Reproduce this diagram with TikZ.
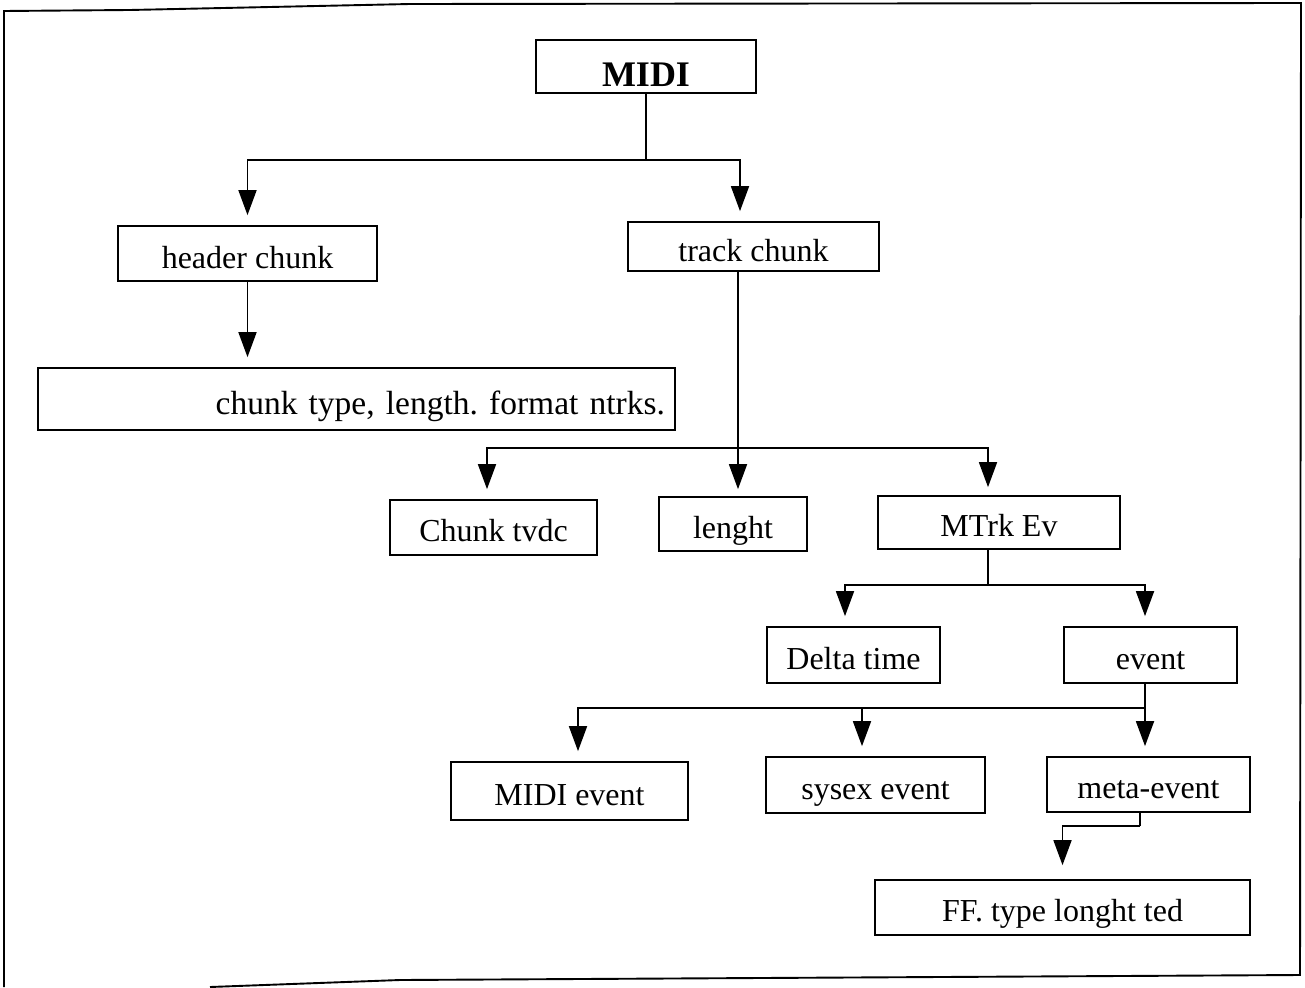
\documentclass[tikz,border=0pt]{standalone}
\usepackage{fontspec}
\setmainfont{Liberation Serif}
\usetikzlibrary{arrows.meta}
\frenchspacing
\begin{document}
\begin{tikzpicture}[x=1pt,y=-1pt,
  box/.style={draw, line width=1.7pt, inner sep=0pt,
    text height=28pt, text depth=0pt,
    font=\fontsize{32}{36}\selectfont},
  link/.style={line width=1.7pt},
  arr/.style={link, -{Triangle[length=25pt,width=18pt]}, shorten >=10pt}]
\useasboundingbox (0,0) rectangle (1305,987);

% outer frame
\draw[line width=1.9pt] (210,987) -- (400,980) -- (1300,975) -- (1301,3)
  -- (410,4) -- (130,10) -- (4,11) -- (4,987);

% boxes
\node[box, minimum width=220, minimum height=53, text height=41pt,
  font=\fontsize{36}{40}\selectfont\bfseries] (midi) at (646,66.5) {MIDI};
\node[box, minimum width=259, minimum height=55, text height=30pt] (header) at (247.5,253.5) {header chunk};
\node[box, minimum width=251, minimum height=49, text height=30pt] (track) at (753.5,246.5) {track chunk};
\node[box, minimum width=637, minimum height=62, text width=617pt, align=right,
  font=\fontsize{33.5}{38}\selectfont, text height=30pt]
  (ctype) at (356.5,399) {chunk type, length. format ntrks.};
\node[box, minimum width=207, minimum height=55] (tvdc) at (493.5,527.5) {Chunk tvdc};
\node[box, minimum width=148, minimum height=54] (lenght) at (733,524) {lenght};
\node[box, minimum width=242, minimum height=53] (mtrk) at (999,522.5) {MTrk Ev};
\node[box, minimum width=173, minimum height=56] (delta) at (853.5,655) {Delta time};
\node[box, minimum width=173, minimum height=56] (event) at (1150.5,655) {event};
\node[box, minimum width=237, minimum height=58] (midiev) at (569.5,791) {MIDI event};
\node[box, minimum width=219, minimum height=56] (sysex) at (875.5,785) {sysex event};
\node[box, minimum width=203, minimum height=55] (meta) at (1148.5,784.5) {meta-event};
\node[box, minimum width=375, minimum height=55] (ff) at (1062.5,907.5) {FF. type longht ted};

% branch points
\coordinate (b1) at (646,160);
\coordinate (b2) at (738,448);
\coordinate (b3) at (988,585);
\coordinate (b4) at (1145,708);
\coordinate (b5) at (1140,826);

% MIDI
\draw[link] (midi.south) -- (b1);
\draw[arr] (b1) -| (header.north);
\draw[arr] (b1) -| ([xshift=-13.5pt]track.north);

% header chunk
\draw[arr] (header.south) -- (header.south |- ctype.north);

% track chunk
\draw[link] ([xshift=-15.5pt]track.south) -- (b2);
\draw[arr] (b2) -| ([xshift=-6.5pt]tvdc.north);
\draw[arr, shorten >=7pt] (b2) -- (b2 |- lenght.north);
\draw[arr, shorten >=8pt] (b2) -| ([xshift=-11pt]mtrk.north);

% MTrk Ev
\draw[link] ([xshift=-11pt]mtrk.south) -- (b3);
\draw[arr] (b3) -| ([xshift=-8.5pt]delta.north);
\draw[arr] (b3) -| ([xshift=-5.5pt]event.north);

% event
\draw[link] ([xshift=-5.5pt]event.south) -- (b4);
\draw[arr] (b4) -| ([xshift=8.5pt]midiev.north);
\draw[arr] (b4) -| ([xshift=-13.5pt]sysex.north);
\draw[arr] (b4) -- (b4 |- meta.north);

% meta-event
\draw[link] ([xshift=-8.5pt]meta.south) -- (b5);
\draw[arr, shorten >=14pt] (b5) -| (ff.north);
\end{tikzpicture}
\end{document}
